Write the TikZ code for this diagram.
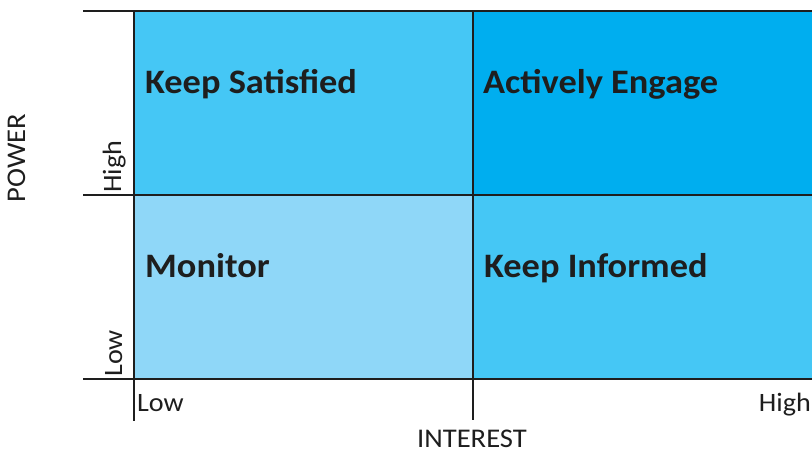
\documentclass[tikz,border=0pt]{standalone}
\usepackage{fontspec}
\setmainfont{Carlito}[FakeStretch=1.06]
\definecolor{cTL}{RGB}{69,199,245}
\definecolor{cTR}{RGB}{0,174,239}
\definecolor{cBL}{RGB}{143,215,248}
\definecolor{cBR}{RGB}{69,199,245}
\definecolor{ink}{RGB}{30,30,30}
\begin{document}
\begin{tikzpicture}[x=1pt,y=1pt,
  quad/.style={text=ink,font=\bfseries\fontsize{34.3}{41}\selectfont,anchor=base west,inner sep=0pt},
  lbl/.style={text=ink,font=\fontsize{26.5}{31}\selectfont,inner sep=0pt},
  axis/.style={text=ink,font=\fontsize{27}{32}\selectfont,inner sep=0pt},
  grid/.style={draw=ink,line width=1.2pt}]
\useasboundingbox (0,0) rectangle (812,454);
% quadrants
\fill[cTL] (134,259) rectangle (473,443);
\fill[cTR] (473,259) rectangle (812,443);
\fill[cBL] (134,75) rectangle (473,259);
\fill[cBR] (473,75) rectangle (812,259);
% grid lines
\coordinate (t0) at (83,443); \coordinate (t1) at (812,443);
\coordinate (m0) at (83,259); \coordinate (m1) at (812,259);
\coordinate (b0) at (83,75);  \coordinate (b1) at (812,75);
\coordinate (v0) at (134,443); \coordinate (v1) at (134,33);
\coordinate (w0) at (473,443); \coordinate (w1) at (473,34);
\draw[grid] (t0) -- (t1);
\draw[grid] (m0) -- (m1);
\draw[grid] (b0) -- (b1);
\draw[grid] (v0) -- (v1);
\draw[grid] (w0) -- (w1);
% quadrant labels
\node[quad] (ks) at (145,360) {Keep Satisfied};
\node[quad] (ae) at (483,360) {Actively Engage};
\node[quad] (mo) at (145,176) {Monitor};
\node[quad] (ki) at (484,176) {Keep Informed};
% axis ticks
\node[lbl,anchor=base west] (xlow) at (137,42) {Low};
\node[lbl,anchor=base east] (xhigh) at (811,42) {High};
\node[lbl,anchor=base west,rotate=90] (yhigh) at (121,261) {High};
\node[lbl,anchor=base west,rotate=90] (ylow) at (122,77) {Low};
% axis titles
\node[axis,anchor=base] (xt) at (472,6) {INTEREST};
\node[axis,anchor=base,rotate=90] (yt) at (25,296) {POWER};
\end{tikzpicture}
\end{document}
